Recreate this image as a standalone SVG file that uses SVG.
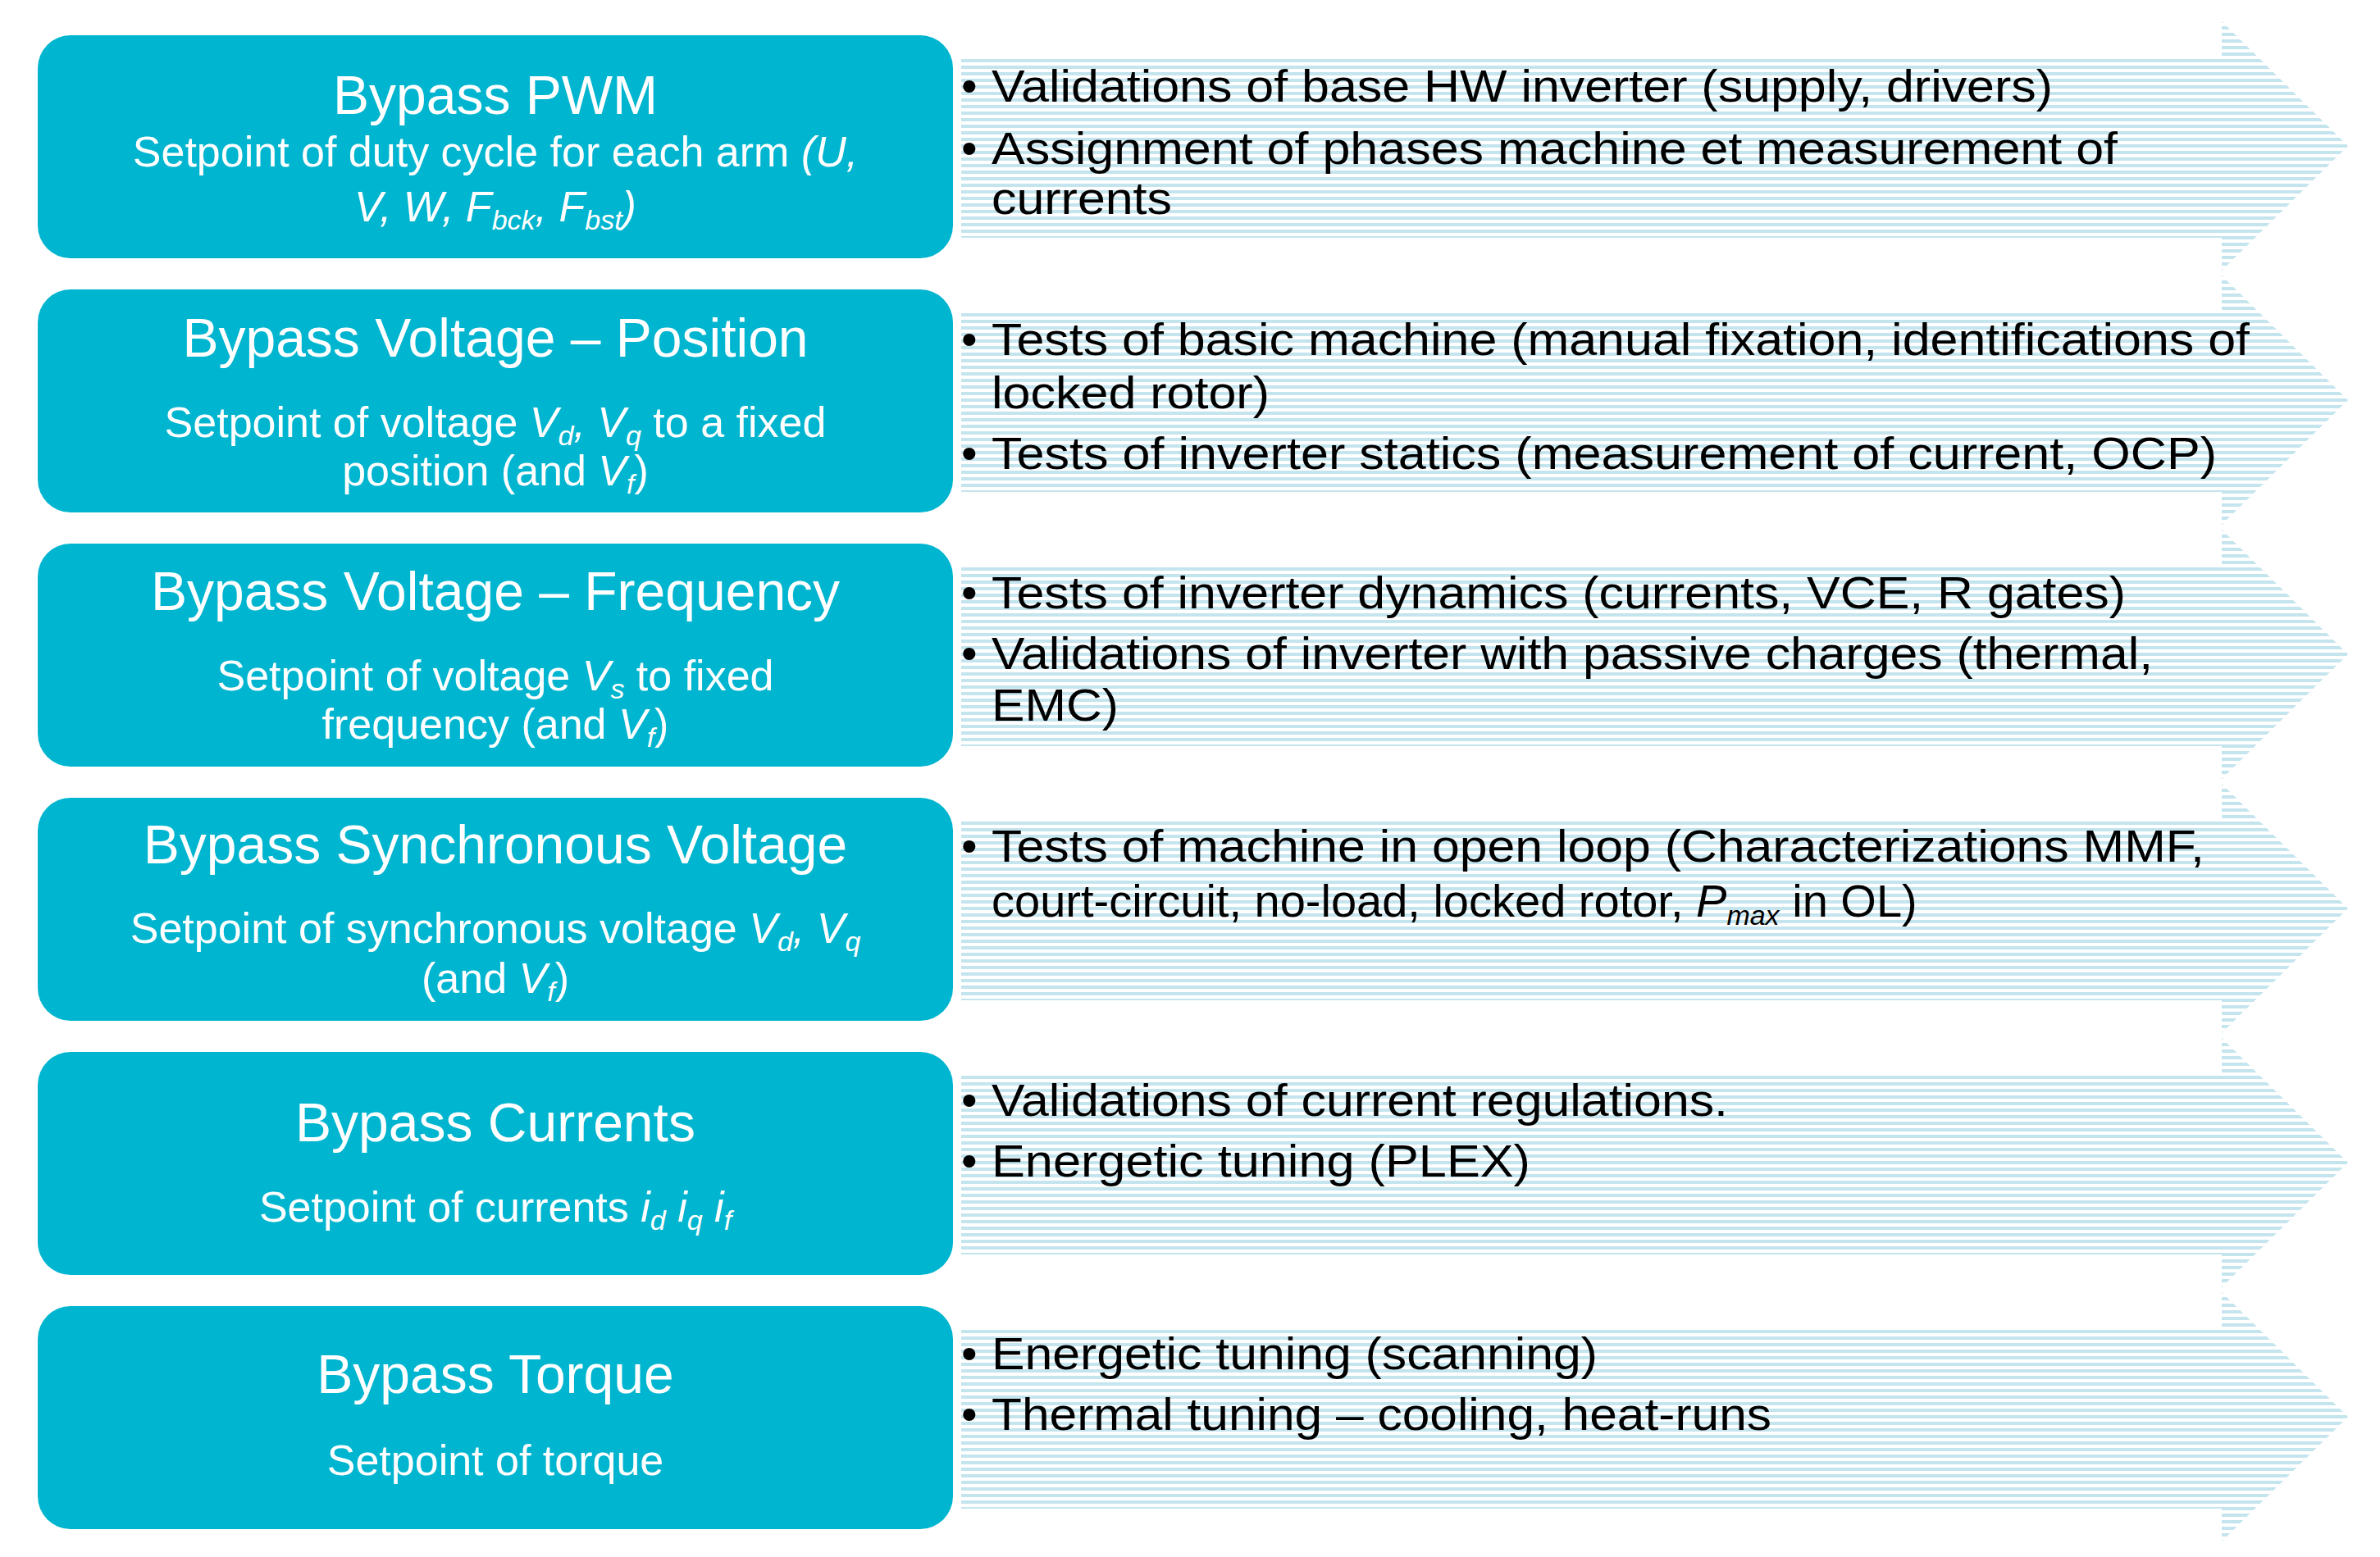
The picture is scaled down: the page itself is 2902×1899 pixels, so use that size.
<svg xmlns="http://www.w3.org/2000/svg" width="2902" height="1899" viewBox="0 0 2902 1899">
<defs>
<pattern id="str" patternUnits="userSpaceOnUse" width="10" height="8"><rect x="0" y="0" width="10" height="4" fill="#c4e4ee"/></pattern>
<polygon id="arr" points="1172,72 2709,72 2709,26 2863,178 2709,330 2709,290 1172,290"/>
</defs>
<style>
.box{fill:#00b5cf}
.t{font-family:"Liberation Sans",Arial,sans-serif;fill:#fff;text-anchor:middle}
.h{font-size:66px}
.s{font-size:52px}
.r{font-family:"Liberation Sans",Arial,sans-serif;font-size:56px;fill:#000}
.i{font-style:italic}
.sub{font-size:34px}
</style>
<rect width="2902" height="1899" fill="#fff"/>
<g id="arrows" fill="url(#str)">
<use href="#arr"/>
<use href="#arr" y="310"/>
<use href="#arr" y="620"/>
<use href="#arr" y="930"/>
<use href="#arr" y="1240"/>
<use href="#arr" y="1550"/>
</g>
<g id="n1"><rect class="box" x="46" y="43" width="1116" height="272" rx="40"/>
<text class="t h" x="604" y="139">Bypass PWM</text>
<text class="t s" x="604" y="203">Setpoint of duty cycle for each arm <tspan class="i">(U,</tspan></text>
<text class="t s i" x="604" y="270">V, W, F<tspan class="sub" dy="10">bck</tspan><tspan dy="-10">, F</tspan><tspan class="sub" dy="10">bst</tspan><tspan dy="-10">)</tspan></text>
</g>
<g id="n2"><rect class="box" x="46" y="353" width="1116" height="272" rx="40"/>
<text class="t h" x="604" y="435">Bypass Voltage – Position</text>
<text class="t s" x="604" y="533">Setpoint of voltage <tspan class="i">V</tspan><tspan class="sub i" dy="10">d</tspan><tspan class="i" dy="-10">, V</tspan><tspan class="sub i" dy="10">q</tspan><tspan dy="-10"> to a fixed</tspan></text>
<text class="t s" x="604" y="592">position  (and <tspan class="i">V</tspan><tspan class="sub i" dy="10">f</tspan><tspan dy="-10">)</tspan></text>
</g>
<g id="n3"><rect class="box" x="46" y="663" width="1116" height="272" rx="40"/>
<text class="t h" x="604" y="744">Bypass Voltage – Frequency</text>
<text class="t s" x="604" y="842">Setpoint of voltage <tspan class="i">V</tspan><tspan class="sub i" dy="10">s</tspan><tspan dy="-10"> to fixed</tspan></text>
<text class="t s" x="604" y="901">frequency (and <tspan class="i">V</tspan><tspan class="sub i" dy="10">f</tspan><tspan dy="-10">)</tspan></text>
</g>
<g id="n4"><rect class="box" x="46" y="973" width="1116" height="272" rx="40"/>
<text class="t h" x="604" y="1053">Bypass Synchronous Voltage</text>
<text class="t s" x="604" y="1150">Setpoint of synchronous voltage <tspan class="i">V</tspan><tspan class="sub i" dy="10">d</tspan><tspan class="i" dy="-10">, V</tspan><tspan class="sub i" dy="10">q</tspan></text>
<text class="t s" x="604" y="1211">(and <tspan class="i">V</tspan><tspan class="sub i" dy="10">f</tspan><tspan dy="-10">)</tspan></text>
</g>
<g id="n5"><rect class="box" x="46" y="1283" width="1116" height="272" rx="40"/>
<text class="t h" x="604" y="1392">Bypass Currents</text>
<text class="t s" x="604" y="1490">Setpoint of currents <tspan class="i">i</tspan><tspan class="sub i" dy="10">d</tspan><tspan class="i" dy="-10"> i</tspan><tspan class="sub i" dy="10">q</tspan><tspan class="i" dy="-10"> i</tspan><tspan class="sub i" dy="10">f</tspan></text>
</g>
<g id="n6"><rect class="box" x="46" y="1593" width="1116" height="272" rx="40"/>
<text class="t h" x="604" y="1699">Bypass Torque</text>
<text class="t s" x="604" y="1799">Setpoint of torque</text>
</g>
<g id="texts" class="r">
<g class="r">
<text x="1172" y="124">•</text><text x="1209" y="124" textLength="1294" lengthAdjust="spacingAndGlyphs">Validations of base HW inverter (supply, drivers)</text>
<text x="1172" y="200">•</text><text x="1209" y="200" textLength="1373" lengthAdjust="spacingAndGlyphs">Assignment of phases machine et measurement of</text>
<text x="1209" y="261" textLength="220" lengthAdjust="spacingAndGlyphs">currents</text>
<text x="1172" y="433">•</text><text x="1209" y="433" textLength="1534" lengthAdjust="spacingAndGlyphs">Tests of basic machine (manual fixation, identifications of</text>
<text x="1209" y="498" textLength="339" lengthAdjust="spacingAndGlyphs">locked rotor)</text>
<text x="1172" y="572">•</text><text x="1209" y="572" textLength="1494" lengthAdjust="spacingAndGlyphs">Tests of inverter statics (measurement of current, OCP)</text>
<text x="1172" y="742">•</text><text x="1209" y="742" textLength="1383" lengthAdjust="spacingAndGlyphs">Tests of inverter dynamics (currents, VCE, R gates)</text>
<text x="1172" y="816">•</text><text x="1209" y="816" textLength="1416" lengthAdjust="spacingAndGlyphs">Validations of inverter with passive charges (thermal,</text>
<text x="1209" y="879" textLength="155" lengthAdjust="spacingAndGlyphs">EMC)</text>
<text x="1172" y="1051">•</text><text x="1209" y="1051" textLength="1479" lengthAdjust="spacingAndGlyphs">Tests of machine in open loop (Characterizations MMF,</text>
<text x="1209" y="1118">court-circuit, no-load, locked rotor, <tspan class="i">P</tspan><tspan class="i sub" dy="10">max</tspan><tspan dy="-10"> in OL)</tspan></text>
<text x="1172" y="1361">•</text><text x="1209" y="1361" textLength="898" lengthAdjust="spacingAndGlyphs">Validations of current regulations.</text>
<text x="1172" y="1435">•</text><text x="1209" y="1435" textLength="657" lengthAdjust="spacingAndGlyphs">Energetic tuning (PLEX)</text>
<text x="1172" y="1670">•</text><text x="1209" y="1670" textLength="739" lengthAdjust="spacingAndGlyphs">Energetic tuning (scanning)</text>
<text x="1172" y="1744">•</text><text x="1209" y="1744" textLength="951" lengthAdjust="spacingAndGlyphs">Thermal tuning – cooling, heat-runs</text>
</g>
</g>
</svg>
